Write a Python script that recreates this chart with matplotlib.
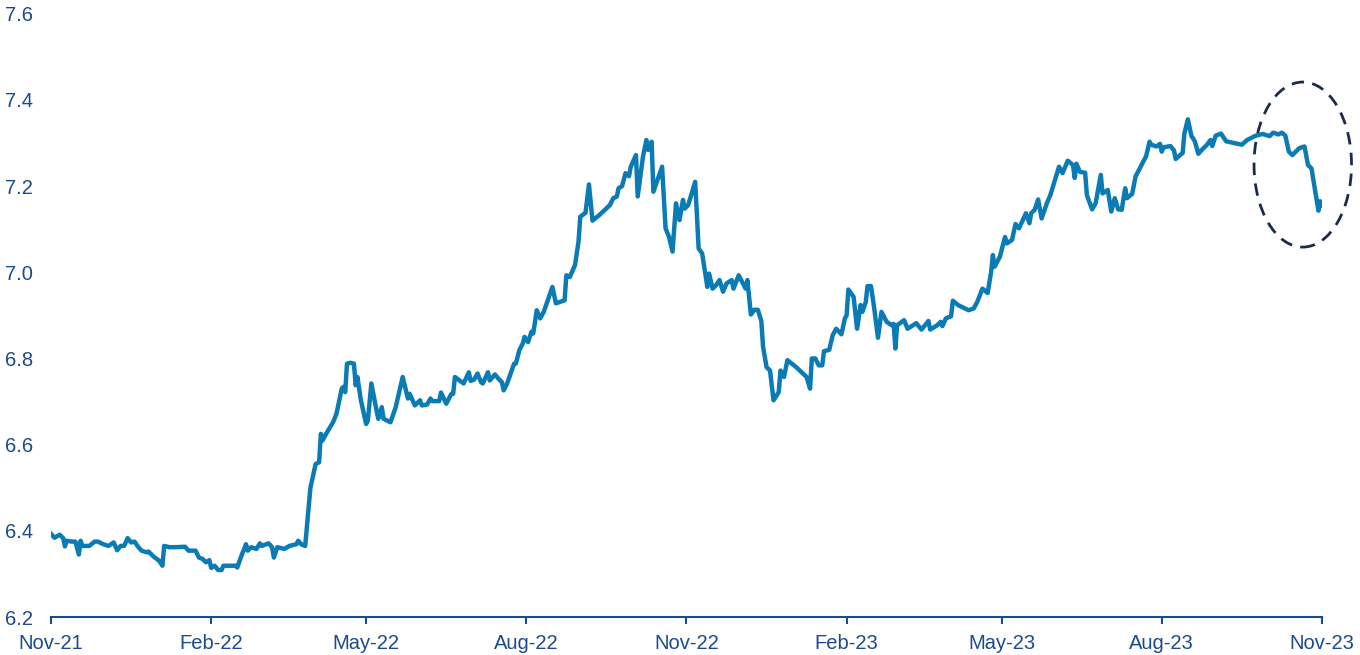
import pandas as pd
import numpy as np
import matplotlib
matplotlib.use("Agg")
import matplotlib.pyplot as plt
import matplotlib.dates as mdates
from matplotlib.patches import Ellipse
from matplotlib.ticker import FormatStrFormatter

plt.rcParams["font.family"] = ["Liberation Sans", "DejaVu Sans"]

# exchange rate
dates = [
    "2021-11-01", "2021-11-03", "2021-11-06", "2021-11-08", "2021-11-09", "2021-11-10",
    "2021-11-13", "2021-11-15", "2021-11-17", "2021-11-18", "2021-11-19", "2021-11-23",
    "2021-11-26", "2021-11-28", "2021-12-01", "2021-12-04", "2021-12-07", "2021-12-09",
    "2021-12-11", "2021-12-13", "2021-12-15", "2021-12-17", "2021-12-19", "2021-12-21",
    "2021-12-23", "2021-12-26", "2021-12-27", "2021-12-30", "2022-01-02", "2022-01-04",
    "2022-01-05", "2022-01-08", "2022-01-11", "2022-01-17", "2022-01-19", "2022-01-23",
    "2022-01-25", "2022-01-27", "2022-01-29", "2022-01-31", "2022-02-01", "2022-02-03",
    "2022-02-05", "2022-02-07", "2022-02-08", "2022-02-11", "2022-02-15", "2022-02-16",
    "2022-02-18", "2022-02-21", "2022-02-22", "2022-02-24", "2022-02-27", "2022-03-01",
    "2022-03-02", "2022-03-06", "2022-03-08", "2022-03-09", "2022-03-11", "2022-03-15",
    "2022-03-18", "2022-03-22", "2022-03-23", "2022-03-25", "2022-03-27", "2022-03-28",
    "2022-03-30", "2022-04-02", "2022-04-04", "2022-04-05", "2022-04-06", "2022-04-08",
    "2022-04-12", "2022-04-14", "2022-04-17", "2022-04-18", "2022-04-19", "2022-04-20",
    "2022-04-22", "2022-04-24", "2022-04-25", "2022-04-26", "2022-04-28", "2022-05-01",
    "2022-05-02", "2022-05-04", "2022-05-07", "2022-05-08", "2022-05-10", "2022-05-11",
    "2022-05-15", "2022-05-18", "2022-05-22", "2022-05-25", "2022-05-26", "2022-05-29",
    "2022-06-01", "2022-06-02", "2022-06-05", "2022-06-07", "2022-06-08", "2022-06-12",
    "2022-06-13", "2022-06-16", "2022-06-19", "2022-06-20", "2022-06-21", "2022-06-25",
    "2022-06-26", "2022-06-29", "2022-06-30", "2022-07-02", "2022-07-04", "2022-07-06",
    "2022-07-07", "2022-07-10", "2022-07-11", "2022-07-14", "2022-07-16", "2022-07-18",
    "2022-07-19", "2022-07-21", "2022-07-25", "2022-07-26", "2022-07-28", "2022-07-30",
    "2022-07-31", "2022-08-02", "2022-08-04", "2022-08-05", "2022-08-07", "2022-08-09",
    "2022-08-11", "2022-08-14", "2022-08-16", "2022-08-18", "2022-08-23", "2022-08-24",
    "2022-08-26", "2022-08-29", "2022-08-31", "2022-09-01", "2022-09-04", "2022-09-06",
    "2022-09-08", "2022-09-12", "2022-09-18", "2022-09-20", "2022-09-22", "2022-09-23",
    "2022-09-25", "2022-09-27", "2022-09-29", "2022-09-30", "2022-10-03", "2022-10-04",
    "2022-10-07", "2022-10-09", "2022-10-10", "2022-10-12", "2022-10-13", "2022-10-15",
    "2022-10-18", "2022-10-20", "2022-10-22", "2022-10-24", "2022-10-26", "2022-10-28",
    "2022-10-30", "2022-10-31", "2022-11-02", "2022-11-06", "2022-11-08", "2022-11-10",
    "2022-11-13", "2022-11-14", "2022-11-16", "2022-11-18", "2022-11-20", "2022-11-22",
    "2022-11-24", "2022-11-27", "2022-11-28", "2022-12-01", "2022-12-05", "2022-12-06",
    "2022-12-08", "2022-12-10", "2022-12-12", "2022-12-14", "2022-12-15", "2022-12-17",
    "2022-12-19", "2022-12-21", "2022-12-24", "2022-12-25", "2022-12-27", "2022-12-29",
    "2023-01-03", "2023-01-09", "2023-01-11", "2023-01-12", "2023-01-14", "2023-01-16",
    "2023-01-18", "2023-01-19", "2023-01-22", "2023-01-24", "2023-01-26", "2023-01-29",
    "2023-01-31", "2023-02-01", "2023-02-02", "2023-02-05", "2023-02-07", "2023-02-09",
    "2023-02-10", "2023-02-12", "2023-02-13", "2023-02-15", "2023-02-17", "2023-02-19",
    "2023-02-21", "2023-02-24", "2023-02-27", "2023-02-28", "2023-03-01", "2023-03-02",
    "2023-03-06", "2023-03-08", "2023-03-13", "2023-03-16", "2023-03-20", "2023-03-21",
    "2023-03-25", "2023-03-27", "2023-03-28", "2023-03-30", "2023-04-02", "2023-04-03",
    "2023-04-06", "2023-04-12", "2023-04-15", "2023-04-17", "2023-04-20", "2023-04-23",
    "2023-04-25", "2023-04-26", "2023-04-27", "2023-04-30", "2023-05-03", "2023-05-04",
    "2023-05-07", "2023-05-09", "2023-05-11", "2023-05-15", "2023-05-17", "2023-05-18",
    "2023-05-20", "2023-05-22", "2023-05-24", "2023-05-27", "2023-05-29", "2023-06-03",
    "2023-06-05", "2023-06-08", "2023-06-11", "2023-06-12", "2023-06-13", "2023-06-15",
    "2023-06-18", "2023-06-19", "2023-06-22", "2023-06-24", "2023-06-27", "2023-06-28",
    "2023-07-01", "2023-07-03", "2023-07-05", "2023-07-07", "2023-07-09", "2023-07-11",
    "2023-07-12", "2023-07-15", "2023-07-17", "2023-07-19", "2023-07-21", "2023-07-23",
    "2023-07-25", "2023-07-26", "2023-07-29", "2023-07-31", "2023-08-01", "2023-08-02",
    "2023-08-06", "2023-08-08", "2023-08-09", "2023-08-11", "2023-08-13", "2023-08-14",
    "2023-08-16", "2023-08-18", "2023-08-20", "2023-08-22", "2023-08-24", "2023-08-27",
    "2023-08-29", "2023-08-30", "2023-09-01", "2023-09-04", "2023-09-07", "2023-09-16",
    "2023-09-19", "2023-09-24", "2023-09-28", "2023-10-02", "2023-10-04", "2023-10-07",
    "2023-10-09", "2023-10-11", "2023-10-13", "2023-10-15", "2023-10-19", "2023-10-22",
    "2023-10-24", "2023-10-26", "2023-10-30", "2023-10-31", "2023-11-01",
]

rate = [
    6.393, 6.384, 6.391, 6.383, 6.364, 6.377,
    6.375, 6.375, 6.345, 6.377, 6.365, 6.365,
    6.375, 6.375, 6.369, 6.365, 6.373, 6.355,
    6.365, 6.365, 6.383, 6.373, 6.375, 6.363,
    6.354, 6.350, 6.352, 6.340, 6.331, 6.319,
    6.365, 6.362, 6.362, 6.363, 6.354, 6.354,
    6.338, 6.335, 6.327, 6.332, 6.314, 6.319,
    6.309, 6.309, 6.319, 6.319, 6.319, 6.315,
    6.338, 6.369, 6.354, 6.362, 6.358, 6.371,
    6.365, 6.371, 6.362, 6.338, 6.362, 6.358,
    6.365, 6.369, 6.377, 6.368, 6.365, 6.410,
    6.500, 6.555, 6.559, 6.625, 6.610, 6.625,
    6.652, 6.672, 6.730, 6.734, 6.722, 6.788,
    6.790, 6.788, 6.738, 6.757, 6.703, 6.648,
    6.656, 6.742, 6.679, 6.660, 6.687, 6.660,
    6.652, 6.687, 6.757, 6.707, 6.718, 6.691,
    6.703, 6.691, 6.693, 6.707, 6.701, 6.701,
    6.721, 6.695, 6.718, 6.718, 6.757, 6.745,
    6.742, 6.768, 6.748, 6.751, 6.765, 6.745,
    6.742, 6.768, 6.749, 6.763, 6.753, 6.745,
    6.726, 6.742, 6.788, 6.788, 6.819, 6.835,
    6.850, 6.838, 6.862, 6.858, 6.912, 6.893,
    6.908, 6.943, 6.966, 6.928, 6.935, 6.993,
    6.989, 7.017, 7.071, 7.129, 7.138, 7.204,
    7.120, 7.133, 7.156, 7.172, 7.176, 7.195,
    7.200, 7.230, 7.223, 7.245, 7.272, 7.176,
    7.268, 7.307, 7.284, 7.303, 7.187, 7.210,
    7.245, 7.102, 7.082, 7.048, 7.160, 7.121,
    7.168, 7.148, 7.156, 7.210, 7.055, 7.044,
    6.966, 6.997, 6.962, 6.970, 6.982, 6.955,
    6.974, 6.982, 6.962, 6.993, 6.962, 6.982,
    6.902, 6.913, 6.913, 6.887, 6.827, 6.780,
    6.772, 6.703, 6.722, 6.772, 6.757, 6.796,
    6.780, 6.757, 6.730, 6.800, 6.800, 6.784,
    6.784, 6.817, 6.820, 6.854, 6.869, 6.856,
    6.893, 6.900, 6.960, 6.943, 6.869, 6.924,
    6.908, 6.931, 6.968, 6.968, 6.912, 6.848,
    6.908, 6.885, 6.877, 6.880, 6.823, 6.877,
    6.889, 6.869, 6.882, 6.867, 6.887, 6.867,
    6.877, 6.885, 6.875, 6.893, 6.898, 6.934,
    6.924, 6.912, 6.916, 6.931, 6.962, 6.952,
    7.001, 7.040, 7.013, 7.036, 7.082, 7.067,
    7.075, 7.112, 7.102, 7.137, 7.114, 7.137,
    7.145, 7.169, 7.125, 7.160, 7.179, 7.245,
    7.230, 7.259, 7.249, 7.219, 7.252, 7.233,
    7.231, 7.179, 7.146, 7.160, 7.226, 7.183,
    7.191, 7.141, 7.172, 7.146, 7.145, 7.195,
    7.172, 7.182, 7.223, 7.238, 7.254, 7.269,
    7.303, 7.296, 7.292, 7.298, 7.280, 7.290,
    7.293, 7.283, 7.263, 7.270, 7.277, 7.322,
    7.355, 7.317, 7.304, 7.275, 7.284, 7.296,
    7.307, 7.293, 7.317, 7.322, 7.304, 7.296,
    7.307, 7.317, 7.321, 7.316, 7.324, 7.320,
    7.324, 7.317, 7.280, 7.272, 7.288, 7.292,
    7.249, 7.241, 7.143, 7.165, 7.156,
]

tick_dates = ["2021-11-01", "2022-02-01", "2022-05-01", "2022-08-01", "2022-11-01",
              "2023-02-01", "2023-05-01", "2023-08-01", "2023-11-01"]
y_ticks = [6.2, 6.4, 6.6, 6.8, 7.0, 7.2, 7.4, 7.6]

# highlighted recent move
circle_center = ("2023-10-21", 7.25)
circle_days = 56
circle_height = 0.383

line_color = "#0B7BB5"
navy = "#1B4A8F"

df = pd.DataFrame({"date": pd.to_datetime(dates), "rate": rate})

fig = plt.figure(figsize=(13.6, 6.55), dpi=100)
ax = fig.add_axes([0.0375, 0.058, 0.9345, 0.921])

ax.plot(df["date"], df["rate"], color=line_color, linewidth=3.2, solid_joinstyle="round")

ell = Ellipse((mdates.date2num(pd.Timestamp(circle_center[0])), circle_center[1]),
              width=circle_days, height=circle_height,
              fill=False, edgecolor="#1C2B4A", linewidth=2,
              linestyle=(0, (4.5, 3)), clip_on=False)
ax.add_patch(ell)

ax.set_xlim(pd.Timestamp(tick_dates[0]), pd.Timestamp(tick_dates[-1]))
ax.set_ylim(6.2, 7.6)
ax.set_xticks(pd.to_datetime(tick_dates))
ax.xaxis.set_major_formatter(mdates.DateFormatter("%b-%y"))
ax.set_yticks(y_ticks)
ax.yaxis.set_major_formatter(FormatStrFormatter("%.1f"))

for s in ["top", "right", "left"]:
    ax.spines[s].set_visible(False)
ax.spines["bottom"].set_color(navy)
ax.spines["bottom"].set_linewidth(1.5)

ax.tick_params(axis="x", colors=navy, labelsize=14.5, length=5, width=1.5, pad=7)
ax.tick_params(axis="y", colors=navy, labelsize=14.5, length=0, pad=13)

fig.savefig("out.png", dpi=100)
